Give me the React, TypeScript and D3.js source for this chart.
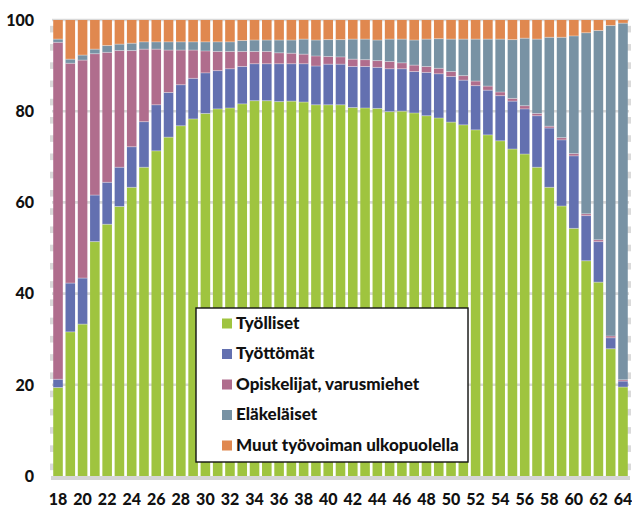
import React from "react";
import * as d3 from "d3";

const ages: number[] = d3.range(18, 65);

const tyolliset = [19.4, 31.6, 33.3, 51.4, 55.2, 59.1, 63.3, 67.7, 71.3, 74.3, 76.8, 78.3, 79.5, 80.5, 80.7, 81.6, 82.3, 82.3, 82.1, 82.2, 82.0, 81.4, 81.4, 81.4, 80.8, 80.7, 80.6, 79.9, 80.0, 79.6, 79.0, 78.5, 77.6, 77.0, 75.9, 74.8, 73.5, 71.7, 70.6, 67.7, 63.3, 59.2, 54.3, 47.2, 42.5, 27.9, 19.5];
const tyottomat = [1.8, 10.7, 10.1, 10.2, 9.2, 8.6, 8.9, 10.0, 10.1, 9.8, 9.0, 8.9, 8.9, 8.4, 8.6, 8.2, 8.1, 8.1, 8.3, 8.2, 8.4, 8.5, 8.9, 8.9, 9.0, 9.1, 9.0, 9.4, 9.3, 9.1, 9.5, 9.7, 10.0, 9.8, 9.7, 9.8, 9.9, 10.5, 9.9, 11.3, 13.0, 14.5, 15.9, 9.9, 8.9, 2.4, 1.3];
const opiskelijat = [73.9, 48.2, 47.8, 31.0, 28.5, 25.6, 21.1, 15.9, 12.2, 9.3, 7.6, 6.2, 4.8, 4.2, 3.8, 3.3, 2.7, 2.7, 2.4, 2.3, 2.1, 2.2, 1.7, 1.6, 1.6, 1.5, 1.5, 1.6, 1.3, 1.4, 1.3, 1.2, 1.1, 1.0, 1.0, 0.9, 0.8, 0.6, 0.7, 0.5, 0.4, 0.5, 0.5, 0.4, 0.4, 0.4, 0.3];
const elakelaiset = [0.7, 0.9, 1.1, 1.0, 1.5, 1.4, 1.6, 1.6, 1.6, 1.8, 1.8, 1.8, 2.0, 2.1, 2.1, 2.4, 2.5, 2.5, 2.8, 2.9, 3.3, 3.5, 3.7, 3.8, 4.4, 4.5, 4.5, 4.9, 5.2, 5.5, 6.0, 6.5, 7.1, 8.0, 9.2, 10.3, 11.6, 12.9, 14.8, 16.3, 19.5, 22.0, 25.8, 39.7, 45.9, 68.1, 78.2];
const muut = [4.2, 8.6, 7.7, 6.4, 5.6, 5.3, 5.1, 4.8, 4.8, 4.8, 4.8, 4.8, 4.8, 4.8, 4.8, 4.5, 4.4, 4.4, 4.4, 4.4, 4.2, 4.4, 4.3, 4.3, 4.2, 4.2, 4.4, 4.2, 4.2, 4.4, 4.2, 4.1, 4.2, 4.2, 4.2, 4.2, 4.2, 4.3, 4.0, 4.2, 3.8, 3.8, 3.5, 2.8, 2.3, 1.2, 0.7];

const seriesNames = ["Työlliset", "Työttömät", "Opiskelijat, varusmiehet", "Eläkeläiset", "Muut työvoiman ulkopuolella"];
const seriesKeys = ["tyolliset", "tyottomat", "opiskelijat", "elakelaiset", "muut"];
const seriesColors = ["#9FC43F", "#6370B0", "#B06D8D", "#7892A4", "#E0884F"];
const yTicks = [0, 20, 40, 60, 80, 100];
const xTickLabels = ages.filter((a) => a % 2 === 0);

const W = 632;
const H = 507;
const FONT = "Lato, 'Open Sans', sans-serif";

export default function App() {
  const table = ages.map((age, i) => ({
    age,
    tyolliset: tyolliset[i],
    tyottomat: tyottomat[i],
    opiskelijat: opiskelijat[i],
    elakelaiset: elakelaiset[i],
    muut: muut[i],
  }));
  const stacked = d3.stack<any>().keys(seriesKeys)(table);

  const x = d3.scaleBand<number>().domain(ages).range([52, 629]).paddingInner(0.22).paddingOuter(0.1);
  const y = d3.scaleLinear().domain([0, 100]).range([476, 20]);

  const minor = d3.range(0, 25).map((k) => 4 * k + 2);

  return (
    <svg width={W} height={H} style={{ position: "absolute", left: 0, top: 0, background: "#fff" }}>
      {yTicks.filter((t) => t > 0).map((t) => (
        <line key={"g" + t} x1={52} x2={629} y1={y(t)} y2={y(t)} stroke="#d9d9d9" strokeWidth={2.6} />
      ))}
      {minor.map((m) => (
        <g key={"m" + m}>
          <rect x={50} y={y(m) - 3.3} width={4} height={6.6} fill="#dadada" />
          <rect x={627} y={y(m) - 3.3} width={4} height={6.6} fill="#dadada" />
        </g>
      ))}
      <rect x={51} y={476} width={579} height={4} fill="#d6d6d6" />
      {stacked.map((s, si) => (
        <g key={s.key} fill={seriesColors[si]}>
          {s.map((d: any) => (
            <rect
              key={d.data.age}
              x={x(d.data.age)}
              y={y(d[1])}
              width={x.bandwidth()}
              height={Math.max(0, y(d[0]) - y(d[1]))}
            />
          ))}
        </g>
      ))}
      {stacked.slice(0, 4).map((s) => (
        <g key={"sep" + s.key}>
          {s.map((d: any) => (
            <line
              key={d.data.age}
              x1={x(d.data.age)}
              x2={(x(d.data.age) as number) + x.bandwidth()}
              y1={y(d[1])}
              y2={y(d[1])}
              stroke="rgba(255,255,255,0.45)"
              strokeWidth={0.8}
            />
          ))}
        </g>
      ))}
      {yTicks.map((t) => (
        <text key={"yl" + t} x={34} y={y(t)} dy="0.36em" textAnchor="end" fontFamily={FONT} fontWeight={900} fontSize={16} fill="#111">
          {t}
        </text>
      ))}
      {xTickLabels.map((a) => (
        <text key={"xl" + a} x={(x(a) as number) + x.bandwidth() / 2} y={505} textAnchor="middle" fontFamily={FONT} fontWeight={900} fontSize={16} fill="#111">
          {a}
        </text>
      ))}
      <rect x={196} y={308} width={272} height={154} fill="#fff" stroke="#111" strokeWidth={1.4} />
      {seriesNames.map((name, i) => {
        const base = 328.5 + i * 30.5;
        return (
          <g key={"lg" + i}>
            <rect x={222} y={base - 10} width={10} height={10} fill={seriesColors[i]} />
            <text x={236} y={base} fontFamily={FONT} fontWeight={900} fontSize={17} fill="#111">
              {name}
            </text>
          </g>
        );
      })}
    </svg>
  );
}
